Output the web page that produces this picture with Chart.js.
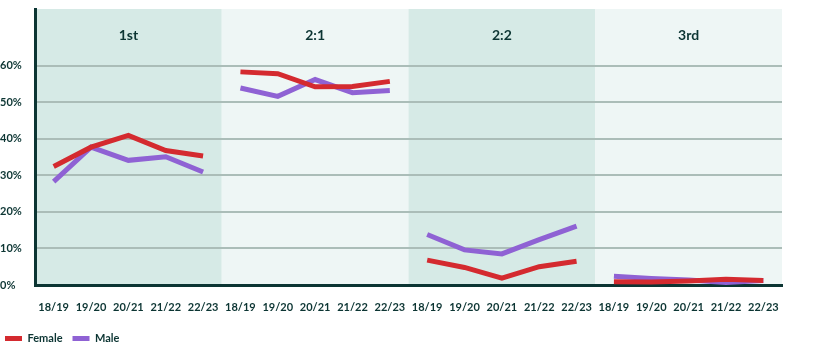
<!DOCTYPE html>
<html>
<head>
<meta charset="utf-8">
<script src="https://cdn.jsdelivr.net/npm/chart.js@4"></script>
<style>
  body { margin: 0; background: #fff; }
  #wrap { width: 814px; height: 360px; }
</style>
</head>
<body>
<div id="wrap"><canvas id="myChart"></canvas></div>
<script>
// datos
const panels = ['1st', '2:1', '2:2', '3rd'];
const years = ['18/19', '19/20', '20/21', '21/22', '22/23'];
const yTicks = [0, 10, 20, 30, 40, 50, 60];

const female = [
  32.4, 37.7, 40.9, 36.8, 35.3,
  58.3, 57.8, 54.2, 54.3, 55.7,
  6.8, 4.8, 1.9, 5.0, 6.5,
  0.9, 0.8, 1.1, 1.6, 1.2
];
const male = [
  28.3, 37.7, 34.1, 35.1, 30.9,
  53.9, 51.6, 56.2, 52.6, 53.2,
  13.8, 9.6, 8.5, 12.4, 16.1,
  2.4, 1.8, 1.4, 0.7, 1.2
];

const labels = [];
panels.forEach(() => years.forEach(y => labels.push(y)));

const dark = '#0c3533';
const panelColors = ['#d6eae6', '#eef6f5'];

// corta la linea entre paneles
const cut = color => ({
  borderColor: c => (c.p0DataIndex % years.length === years.length - 1 ? 'transparent' : color)
});

const panelsPlugin = {
  id: 'panels',
  beforeDraw(chart) {
    const { ctx, chartArea, scales } = chart;
    const x = scales.x;
    const step = (x.getPixelForValue(1) - x.getPixelForValue(0));
    ctx.save();
    panels.forEach((p, i) => {
      const left = x.getPixelForValue(i * years.length) - step / 2;
      const right = x.getPixelForValue(i * years.length + years.length - 1) + step / 2;
      ctx.fillStyle = panelColors[i % 2];
      ctx.fillRect(left, chartArea.top, right - left, chartArea.bottom - chartArea.top);
    });
    ctx.restore();
  },
  afterDatasetsDraw(chart) {
    const { ctx, chartArea, scales } = chart;
    const x = scales.x;
    ctx.save();
    ctx.fillStyle = dark;
    ctx.font = 'bold 14px Lato';
    ctx.textAlign = 'center';
    ctx.textBaseline = 'middle';
    panels.forEach((p, i) => {
      const mid = (x.getPixelForValue(i * years.length) + x.getPixelForValue(i * years.length + years.length - 1)) / 2;
      ctx.fillText(p, mid, chartArea.top + 26);
    });
    ctx.restore();
  },
  afterLayout(chart) {
    if (chart.legend) chart.legend.left -= 5;
  }
};

const ctx = document.getElementById('myChart');

new Chart(ctx, {
  type: 'line',
  data: {
    labels: labels,
    datasets: [
      {
        label: 'Female',
        data: female,
        borderColor: '#d42a2f',
        backgroundColor: '#d42a2f',
        borderWidth: 5,
        pointRadius: 0,
        segment: cut('#d42a2f')
      },
      {
        label: 'Male',
        data: male,
        borderColor: '#8f62d4',
        backgroundColor: '#8f62d4',
        borderWidth: 5,
        pointRadius: 0,
        segment: cut('#8f62d4')
      }
    ]
  },
  options: {
    responsive: true,
    maintainAspectRatio: false,
    animation: false,
    layout: { padding: { top: 9, right: 32, bottom: 6, left: 0 } },
    plugins: {
      tooltip: { enabled: false },
      legend: {
        position: 'bottom',
        align: 'start',
        labels: {
          boxWidth: 17,
          boxHeight: 0,
          padding: 10,
          color: dark,
          font: { family: 'Lato', size: 11, weight: 'bold' }
        }
      }
    },
    scales: {
      x: {
        offset: true,
        grid: { display: false },
        border: { display: true, color: dark, width: 3 },
        ticks: {
          color: dark,
          maxRotation: 0,
          autoSkip: false,
          padding: 8,
          font: { family: 'Lato', size: 11, weight: 'bold' }
        },
        afterFit(scale) { scale.height = 38; }
      },
      y: {
        min: 0,
        max: 75.5,
        afterBuildTicks(scale) { scale.ticks = yTicks.map(v => ({ value: v })); },
        grid: { color: '#abbdb8', lineWidth: 2, drawTicks: false },
        border: { display: true, color: dark, width: 3 },
        ticks: {
          color: dark,
          crossAlign: 'far',
          padding: 8,
          font: { family: 'Lato', size: 11, weight: 'bold' },
          callback: v => v + '%'
        },
        afterFit(scale) { scale.width = 35; scale.paddingTop = 0; }
      }
    }
  },
  plugins: [panelsPlugin]
});
</script>
</body>
</html>
